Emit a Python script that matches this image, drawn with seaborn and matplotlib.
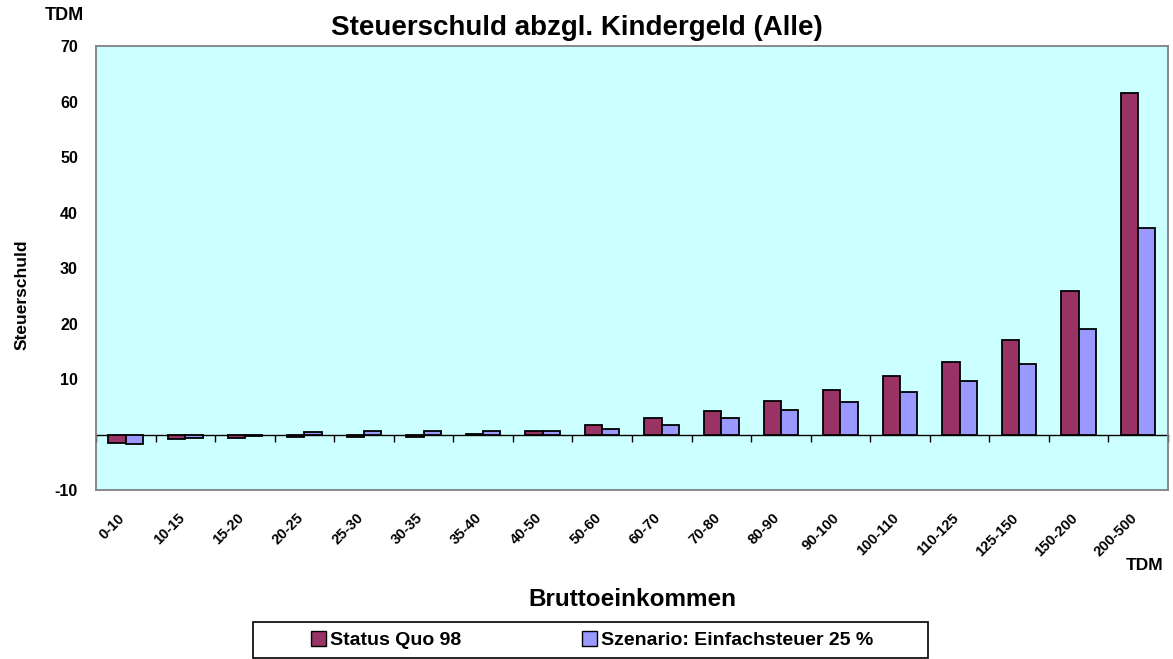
import matplotlib
matplotlib.use('Agg')
import matplotlib.pyplot as plt
import matplotlib.transforms as mtransforms
import pandas as pd
import seaborn as sns

# Bruttoeinkommen classes (TDM)
categories = ['0-10', '10-15', '15-20', '20-25', '25-30', '30-35', '35-40', '40-50',
              '50-60', '60-70', '70-80', '80-90', '90-100', '100-110', '110-125',
              '125-150', '150-200', '200-500']
status_quo = [-1.6, -0.8, -0.6, -0.5, -0.4, -0.4, 0.1, 0.7, 1.8, 2.9, 4.2, 6.0,
              8.1, 10.6, 13.0, 17.1, 25.8, 61.5]
einfachsteuer = [-1.7, -0.6, -0.2, 0.4, 0.7, 0.6, 0.6, 0.6, 1.0, 1.8, 2.9, 4.4,
                 5.8, 7.6, 9.6, 12.8, 19.0, 37.2]
series_names = ['Status Quo 98', 'Szenario: Einfachsteuer 25 %']
colors = ['#993366', '#9999FF']
y_ticks = [-10, 10, 20, 30, 40, 50, 60, 70]

df = pd.DataFrame({
    'Bruttoeinkommen': categories * 2,
    'Steuerschuld': status_quo + einfachsteuer,
    'Serie': [series_names[0]] * len(categories) + [series_names[1]] * len(categories),
})

sns.set_style('white')
plt.rcParams['font.family'] = ['Liberation Sans', 'DejaVu Sans']
plt.rcParams['font.weight'] = 'bold'
plt.rcParams['text.color'] = 'black'
plt.rcParams['axes.labelcolor'] = 'black'
plt.rcParams['xtick.color'] = 'black'
plt.rcParams['ytick.color'] = 'black'

fig = plt.figure(figsize=(11.73, 6.59), dpi=100)
ax = fig.add_axes([0.0818, 0.2564, 0.9139, 0.6736])
ax.set_facecolor('#CCFFFF')

sns.barplot(data=df, x='Bruttoeinkommen', y='Steuerschuld', hue='Serie',
            order=categories, hue_order=series_names,
            palette=colors, width=0.58, saturation=1,
            edgecolor='black', linewidth=1.3, ax=ax, legend=False)

ax.set_ylim(-10, 70)
ax.set_xlim(-0.5, len(categories) - 0.5)
ax.set_yticks(y_ticks)
ax.set_yticklabels([str(t) for t in y_ticks], fontsize=11.5, fontweight='bold')
ax.tick_params(axis='y', length=0, pad=13)
ax.tick_params(axis='x', length=0, pad=15)
ax.set_xticks(range(len(categories)))
ax.set_xticklabels(categories, rotation=45, ha='right', rotation_mode='anchor',
                   fontsize=10.5, fontweight='bold')
shift = mtransforms.ScaledTranslation(-0.08, 0, fig.dpi_scale_trans)
for lbl in ax.get_xticklabels():
    lbl.set_transform(lbl.get_transform() + shift)
for s in ax.spines.values():
    s.set_color('#808080')
    s.set_linewidth(1.3)

# zero line with category-boundary ticks
zero = ax.secondary_xaxis(10 / 80)
zero.set_xticks([i - 0.5 for i in range(len(categories) + 1)])
zero.tick_params(length=5, width=1, direction='out', labelbottom=False, color='black')
zero.spines['bottom'].set_color('black')
zero.spines['bottom'].set_linewidth(1)

ax.set_xlabel('')
ax.set_ylabel('Steuerschuld', fontsize=12.5, fontweight='bold')
ax.yaxis.set_label_coords(-0.062, 0.44)

fig.text(577 / 1173, 1 - 28 / 659, 'Steuerschuld abzgl. Kindergeld (Alle)', ha='center',
         va='center', fontsize=20, fontweight='bold')
fig.text(64 / 1173, 1 - 15 / 659, 'TDM', ha='center', va='center', fontsize=13,
         fontweight='bold')
fig.text(1145 / 1173, 1 - 565 / 659, 'TDM', ha='center', va='center', fontsize=12.5,
         fontweight='bold')
fig.text(632 / 1173, 1 - 600 / 659, 'Bruttoeinkommen', ha='center', va='center',
         fontsize=17.5, fontweight='bold')

# legend box
fig.patches.append(plt.Rectangle((253 / 1173, 1 / 659), 675 / 1173, 36 / 659,
                                 transform=fig.transFigure, facecolor='white',
                                 edgecolor='black', linewidth=1.2))
handles = [plt.Rectangle((0, 0), 1, 1, facecolor=c, edgecolor='black', linewidth=1)
           for c in colors]
leg = fig.legend(handles, series_names, loc='center',
                 bbox_to_anchor=(592 / 1173, 1 - 640 / 659),
                 ncol=2, fontsize=14, frameon=False,
                 handlelength=0.8, handleheight=0.8, handletextpad=0.2,
                 columnspacing=6.2, borderpad=0, borderaxespad=0)
for t in leg.get_texts():
    t.set_fontweight('bold')

fig.savefig('out.png', dpi=100)
